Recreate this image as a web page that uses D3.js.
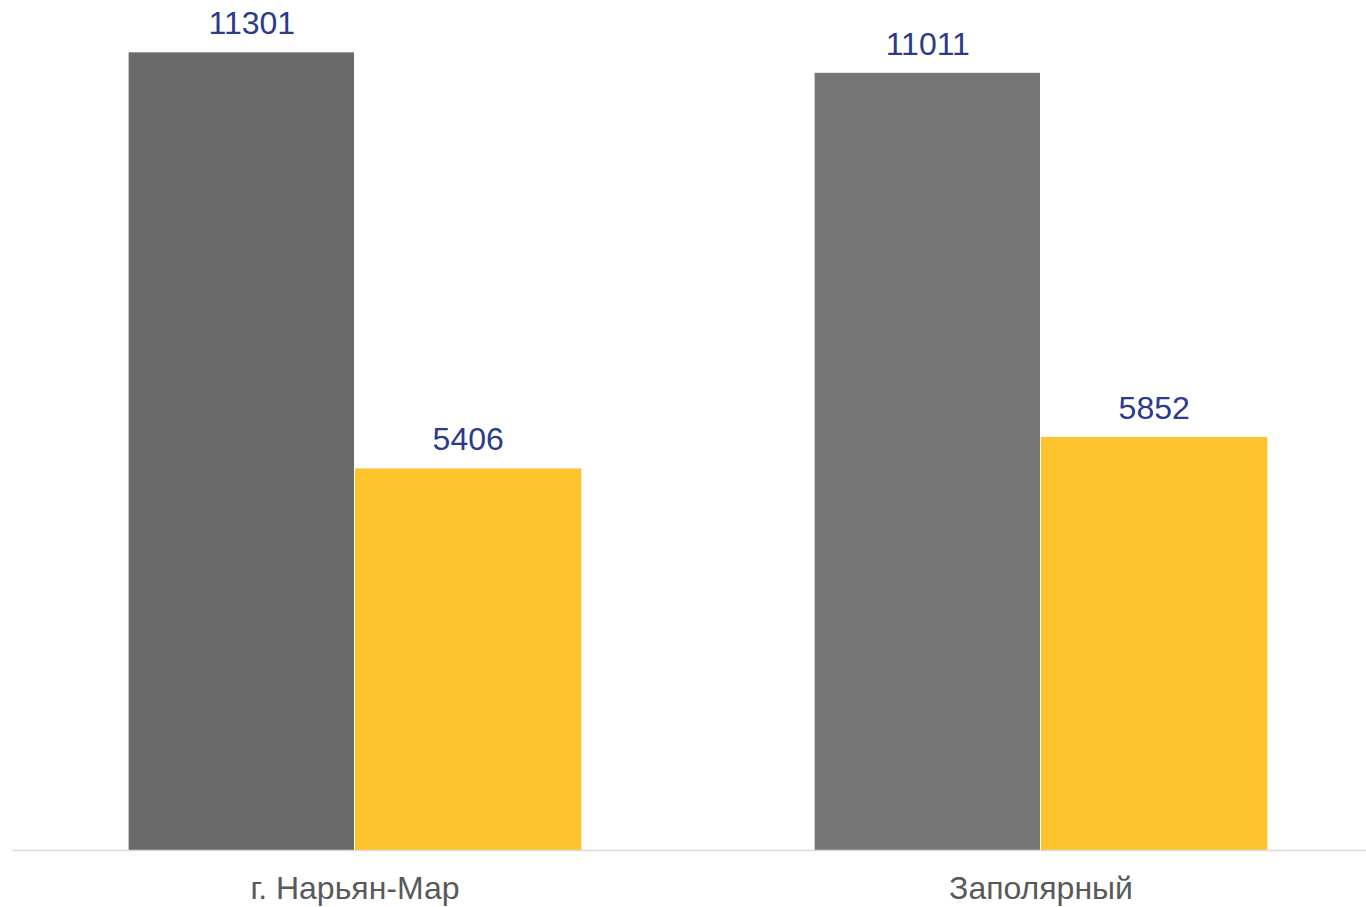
<!DOCTYPE html>
<html>
<head>
<meta charset="utf-8">
<script src="https://cdn.jsdelivr.net/npm/d3@7"></script>
<style>
  html, body { margin: 0; padding: 0; background: #fff; }
  svg { display: block; font-family: "Liberation Sans", Arial, sans-serif; }
</style>
</head>
<body>
<div id="chart"></div>
<script>
// data
let categories = ['г. Нарьян-Мар', 'Заполярный']
let seriesA = [11301, 11011]
let seriesB = [5406, 5852]
let colorsA = ['#6a6a6a', '#767676']
let colorB = '#fec32d'

let width = 1366,
  height = 907,
  margin = { top: 3, right: -18, bottom: 57, left: 12 },
  plot_width = width - margin.left - margin.right,
  plot_height = height - margin.top - margin.bottom

let svg = d3.select('#chart').append('svg')
  .attr('width', width)
  .attr('height', height)

let g = svg.append('g')
  .attr('transform', `translate(${margin.left},${margin.top})`)

let x0 = d3.scaleBand()
  .domain(categories)
  .range([0, plot_width])
  .paddingInner(0.34)
  .paddingOuter(0.17)

let x1 = d3.scaleBand()
  .domain(['a', 'b'])
  .range([0, x0.bandwidth()])

let yScale = d3.scaleLinear()
  .domain([0, 12000])
  .range([plot_height, 0])

let rows = categories.map((c, i) => ({ cat: c, i: i, a: seriesA[i], b: seriesB[i] }))

let groups = g.selectAll('.group')
  .data(rows)
  .enter().append('g')
  .attr('class', 'group')
  .attr('transform', d => `translate(${x0(d.cat)},0)`)

// gray bars
groups.append('rect')
  .attr('x', x1('a'))
  .attr('y', d => yScale(d.a))
  .attr('width', x1.bandwidth() - 1)
  .attr('height', d => plot_height - yScale(d.a))
  .attr('fill', d => colorsA[d.i])

// yellow bars
groups.append('rect')
  .attr('x', x1('b'))
  .attr('y', d => yScale(d.b))
  .attr('width', x1.bandwidth())
  .attr('height', d => plot_height - yScale(d.b))
  .attr('fill', colorB)

// value labels (first one sits a bit right of centre in the original)
let labelShift = [10, 0]

groups.append('text')
  .attr('x', d => x1('a') + x1.bandwidth() / 2 + labelShift[d.i])
  .attr('y', d => yScale(d.a) - 18)
  .attr('text-anchor', 'middle')
  .attr('font-size', '32px')
  .attr('fill', '#2b3a8a')
  .text(d => d.a)

groups.append('text')
  .attr('x', x1('b') + x1.bandwidth() / 2)
  .attr('y', d => yScale(d.b) - 18)
  .attr('text-anchor', 'middle')
  .attr('font-size', '32px')
  .attr('fill', '#2b3a8a')
  .text(d => d.b)

// x axis
let xAxis = d3.axisBottom(x0).tickSize(0).tickPadding(26)

let xAxis_container = g.append('g')
  .attr('class', 'xaxis')
  .attr('transform', `translate(0,${plot_height})`)
  .call(xAxis)

xAxis_container.select('.domain')
  .attr('stroke', '#d9d9d9')
  .attr('stroke-width', 1.5)

xAxis_container.selectAll('text')
  .attr('font-size', '32px')
  .attr('fill', '#595959')
  .attr('font-family', '"Liberation Sans", Arial, sans-serif')
</script>
</body>
</html>
